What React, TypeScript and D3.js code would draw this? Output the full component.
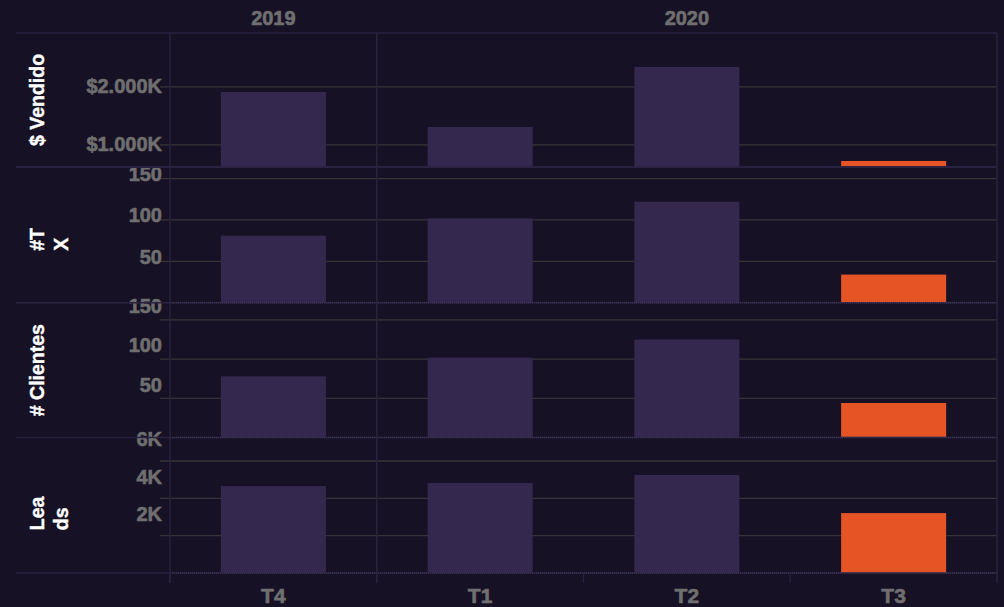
import React from 'react';
import * as d3 from 'd3';

// ---- data ----
const quarters = ['T4', 'T1', 'T2', 'T3'];
const quarterYears = ['2019', '2020', '2020', '2020'];
const years = ['2019', '2020'];

const vendidoK = [1914, 1310, 2345, 724];
const transacciones = [81, 102, 122, 34];
const clientes = [78, 102, 125, 44];
const leads = [4660, 4820, 5250, 3210];

const vendidoTicks = [1000, 2000];
const txTicks = [50, 100, 150];
const clientesTicks = [50, 100, 150];
const leadsTicks = [2000, 4000, 6000];

const panelTitles = [['$ Vendido'], ['#T', 'X'], ['# Clientes'], ['Lea', 'ds']];

// ---- layout ----
const W = 1004;
const H = 607;
const X0 = 170;
const X1 = 997;
const LEFT = 16;
const rowEdges = [33, 167, 302.7, 437.5, 573];

const BG = '#161124';
const BAR = '#35284f';
const HIGHLIGHT = '#e55425';
const GRID = '#373439';
const BORDER = '#2a2240';
const TEXT_GRAY = '#6f6f6f';
const FONT = '"Liberation Sans", Arial, sans-serif';

const es = d3.formatLocale({ decimal: ',', thousands: '.', grouping: [3], currency: ['$', ''] });
const fmtThousands = es.format(',');

const panels = [
  { values: vendidoK, domain: [620, 2930], ticks: vendidoTicks, fmt: (v: number) => `$${fmtThousands(v)}K`, labelShift: -1, titleShift: 0 },
  { values: transacciones, domain: [0, 164], ticks: txTicks, fmt: (v: number) => `${v}`, labelShift: -5, titleShift: 16 },
  { values: clientes, domain: [0, 172], ticks: clientesTicks, fmt: (v: number) => `${v}`, labelShift: -14, titleShift: 0 },
  { values: leads, domain: [0, 7260], ticks: leadsTicks, fmt: (v: number) => `${v / 1000}K`, labelShift: -22, titleShift: 25 },
];

const grayText = {
  fill: TEXT_GRAY,
  stroke: TEXT_GRAY,
  strokeWidth: 0.6,
  fontFamily: FONT,
  fontWeight: 'bold' as const,
};

export default function App() {
  const xCol = d3.scaleBand<string>().domain(quarters).range([X0, X1]).padding(0);
  const xBar = d3.scaleBand<string>().domain(quarters).range([X0, X1]).paddingInner(0.492).paddingOuter(0.246);

  const yearSpans = years.map((yr) => {
    const qs = quarters.filter((_, i) => quarterYears[i] === yr);
    const a = xCol(qs[0])!;
    const b = xCol(qs[qs.length - 1])! + xCol.bandwidth();
    return { yr, a, b };
  });

  return (
    <svg width={W} height={H} style={{ position: 'fixed', left: 0, top: 0, background: BG }}>
      <rect x={0} y={0} width={W} height={H} fill={BG} />

      {/* year headers */}
      {yearSpans.map((s) => (
        <text key={s.yr} x={(s.a + s.b) / 2} y={25} textAnchor="middle" {...grayText} fontSize={20}>{s.yr}</text>
      ))}

      {panels.map((p, pi) => {
        const top = rowEdges[pi];
        const bottom = rowEdges[pi + 1];
        const y = d3.scaleLinear().domain(p.domain).range([bottom, top]);
        const base = Math.min(y(Math.max(0, p.domain[0])), bottom);
        const center = (top + bottom) / 2;
        const lines = panelTitles[pi];
        return (
          <g key={pi}>
            {/* gridlines */}
            {p.ticks.map((t) => (
              <line key={t} x1={160} x2={X1} y1={y(t)} y2={y(t)} stroke={GRID} strokeWidth={1.3} />
            ))}
            {/* bars */}
            {p.values.map((v, i) => (
              <rect key={i} x={xBar(quarters[i])} width={xBar.bandwidth()}
                y={Math.min(y(v), base)} height={Math.abs(base - y(v))}
                fill={i === p.values.length - 1 ? HIGHLIGHT : BAR} />
            ))}
            {/* tick labels */}
            {p.ticks.map((t) => (
              <text key={'l' + t} x={162} y={y(t) + p.labelShift} dy="0.36em" textAnchor="end"
                {...grayText} fontSize={20}>{p.fmt(t)}</text>
            ))}
            {/* row title */}
            {lines.length === 1 ? (
              <text transform={`translate(44,${center}) rotate(-90)`} textAnchor="middle" fill="#ffffff"
                stroke="#ffffff" strokeWidth={0.4}
                fontFamily={FONT} fontWeight="bold" fontSize={19.5}>{lines[0]}</text>
            ) : (
              lines.map((ln, li) => (
                <text key={li} transform={`translate(${44 + li * 24},${center + p.titleShift}) rotate(-90)`}
                  textAnchor="start" fill="#ffffff" stroke="#ffffff" strokeWidth={0.4}
                  fontFamily={FONT} fontWeight="bold" fontSize={19.5}>{ln}</text>
              ))
            )}
          </g>
        );
      })}

      {/* row separators */}
      {rowEdges.map((ry, i) => (
        <g key={'r' + i}>
          <line x1={LEFT} x2={X1} y1={ry} y2={ry} stroke={BORDER} strokeWidth={i === 1 ? 2 : 1.5} />
          {i >= 2 && (
            <line x1={X0} x2={X1} y1={ry} y2={ry} stroke="#3d3354" strokeWidth={1.5} strokeDasharray="1,1" />
          )}
        </g>
      ))}

      {/* vertical borders */}
      {[X0, ...yearSpans.slice(1).map((s) => s.a), X1].map((vx, i) => (
        <line key={'v' + i} x1={vx} x2={vx} y1={rowEdges[0]} y2={583} stroke={BORDER} strokeWidth={1.5} />
      ))}
      {/* bottom axis ticks */}
      {quarters.map((q) => (
        <line key={'t' + q} x1={xCol(q)} x2={xCol(q)} y1={573} y2={583} stroke={BORDER} strokeWidth={1.2} />
      ))}

      {/* quarter labels */}
      {quarters.map((q) => (
        <text key={'q' + q} x={xCol(q)! + xCol.bandwidth() / 2} y={603} textAnchor="middle"
          {...grayText} fontSize={21}>{q}</text>
      ))}
    </svg>
  );
}
